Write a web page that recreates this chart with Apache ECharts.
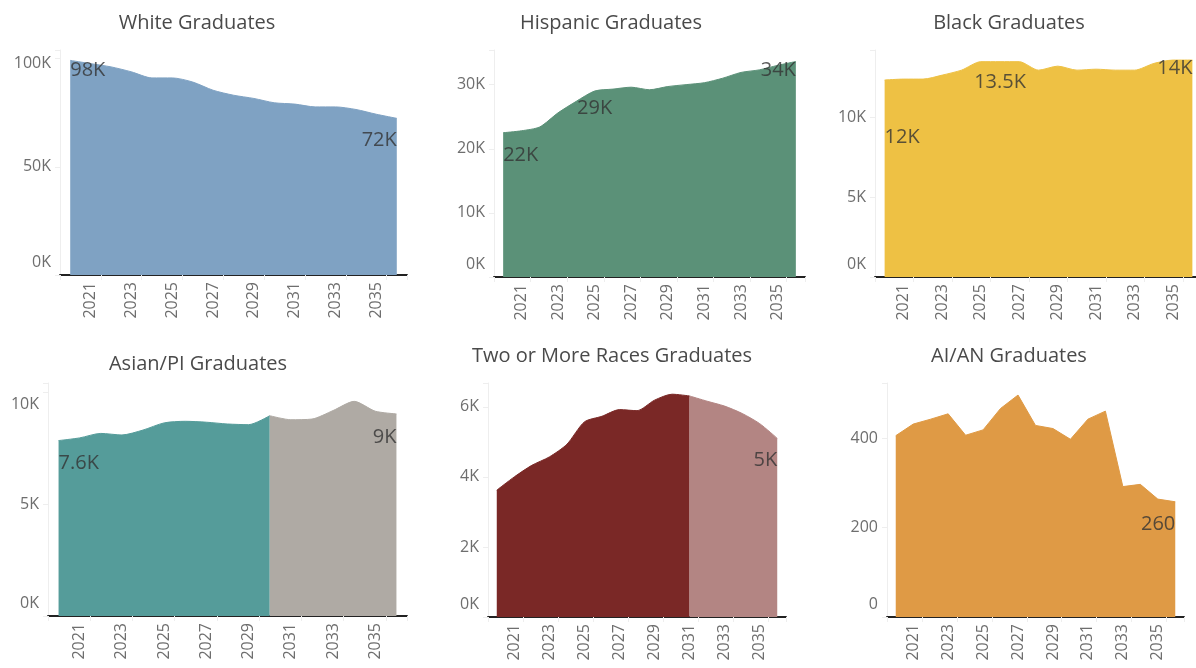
<!DOCTYPE html>
<html>
<head>
<meta charset="utf-8">
<script src="https://cdn.jsdelivr.net/npm/echarts@6/dist/echarts.min.js"></script>
<style>
  html, body { margin: 0; padding: 0; background: #fff; overflow: hidden; }
  #chart { width: 1210px; height: 668px; }
</style>
</head>
<body>
<div id="chart"></div>
<script>
const years = ['2020', '2021', '2022', '2023', '2024', '2025', '2026', '2027', '2028',
  '2029', '2030', '2031', '2032', '2033', '2034', '2035', '2036'];

const whiteGrads = [99200, 97700, 96200, 93900, 91100, 91100, 89200, 85400, 83100,
  81600, 79600, 79000, 77700, 77700, 76500, 74300, 72400];
const hispanicGrads = [22500, 22800, 23400, 25600, 27400, 29000, 29300, 29600, 29200,
  29700, 30000, 30300, 31000, 31900, 32300, 33000, 33600];
const blackGrads = [12320, 12380, 12380, 12630, 12940, 13470, 13470, 13470, 12940,
  13190, 12940, 13000, 12940, 12940, 13360, 13570, 13570];
const asianGrads = [7830, 7950, 8150, 8080, 8300, 8620, 8690, 8650, 8570,
  8540, 8940, 8760, 8790, 9170, 9580, 9140, 9020];
const multiGrads = [3620, 4000, 4330, 4570, 4930, 5570, 5730, 5920, 5890,
  6190, 6360, 6310, 6160, 6020, 5810, 5520, 5100];
const aianGrads = [406, 432, 443, 455, 407, 419, 467, 497, 429,
  422, 398, 443, 461, 292, 297, 264, 258];

// year index where the lighter (projected) part starts
const asianSplit = 10;
const multiSplit = 11;

// annotations: [year index, value, text, align]
const whiteNotes = [[0, 94400, '98K', 'left'], [16, 62400, '72K', 'right']];
const hispanicNotes = [[0, 19000, '22K', 'left'], [5, 26300, '29K', 'center'], [16, 32200, '34K', 'right']];
const blackNotes = [[0, 8760, '12K', 'left'], [5.6, 12200, '13.5K', 'center'], [16, 13080, '14K', 'right']];
const asianNotes = [[0, 6830, '7.6K', 'left'], [16, 7990, '9K', 'right']];
const multiNotes = [[16, 4480, '5K', 'right']];
const aianNotes = [[16, 208, '260', 'right']];

const panels = [
  { title: 'White Graduates', tx: 197, ty: 13, grid: { left: 60, top: 50, width: 347, height: 225 },
    max: 104000, interval: 50000, topShift: 5, k: true, smooth: 0.25 },
  { title: 'Hispanic Graduates', tx: 611, ty: 13, grid: { left: 494, top: 50, width: 311, height: 227 },
    max: 35400, interval: 10000, topShift: 0, k: true, smooth: 0.25 },
  { title: 'Black Graduates', tx: 1009, ty: 13, grid: { left: 875, top: 50, width: 327, height: 227 },
    max: 14200, interval: 5000, topShift: 0, k: true, smooth: 0.25 },
  { title: 'Asian/PI Graduates', tx: 198, ty: 354, grid: { left: 48, top: 383, width: 359, height: 233 },
    max: 10400, interval: 5000, topShift: 12, k: true, smooth: 0.25 },
  { title: 'Two or More Races Graduates', tx: 612, ty: 346, grid: { left: 488, top: 383, width: 298, height: 234 },
    max: 6680, interval: 2000, topShift: 0, k: true, smooth: 0.25 },
  { title: 'AI/AN Graduates', tx: 1009, ty: 346, grid: { left: 887, top: 383, width: 297, height: 234 },
    max: 524, interval: 200, topShift: 0, k: false, smooth: false },
];

const FONT = '"Open Sans", "Noto Sans", sans-serif';

function splitSeries(values, from, to) {
  return values.map((v, i) => (i >= from && i <= to ? v : '-'));
}

function areaSeries(idx, data, color) {
  return {
    type: 'line',
    xAxisIndex: idx,
    yAxisIndex: idx,
    data,
    smooth: panels[idx].smooth,
    showSymbol: false,
    silent: true,
    lineStyle: { color, width: 1 },
    itemStyle: { color },
    areaStyle: { color, opacity: 1 },
  };
}

function noteSeries(idx, notes) {
  return {
    type: 'scatter',
    xAxisIndex: idx,
    yAxisIndex: idx,
    symbolSize: 0,
    silent: true,
    z: 5,
    data: notes.map(([x, y, text, align]) => ({
      value: [x, y],
      label: { formatter: text, align },
    })),
    label: {
      show: true,
      position: 'inside',
      verticalAlign: 'middle',
      fontFamily: FONT,
      fontSize: 20,
      color: '#333',
    },
  };
}

const chart = echarts.init(document.getElementById('chart'), null, { renderer: 'canvas' });

const grids = panels.map((p) => p.grid);

const xAxes = panels.map((p, i) => ({
  type: 'category',
  gridIndex: i,
  data: years,
  boundaryGap: true,
  axisLine: { show: true, lineStyle: { color: '#222', width: 2 } },
  axisTick: { show: true, interval: 1, length: 5, lineStyle: { color: '#eeeeee' } },
  axisLabel: {
    rotate: 90,
    interval: (index) => index % 2 === 1,
    margin: 7,
    fontFamily: FONT,
    fontSize: 16,
    color: '#6e6e6e',
  },
  splitLine: { show: false },
}));

const yAxes = panels.map((p, i) => {
  const topTick = Math.floor(p.max / p.interval) * p.interval;
  return {
    type: 'value',
    gridIndex: i,
    min: 0,
    max: p.max,
    interval: p.interval,
    axisLine: { show: true, lineStyle: { color: '#eeeeee' } },
    axisTick: { show: true, length: 5, lineStyle: { color: '#eeeeee' } },
    splitLine: { show: false },
    axisLabel: {
      margin: 9,
      fontFamily: FONT,
      fontSize: 16,
      color: '#6e6e6e',
      formatter: (value) => {
        if (value % p.interval !== 0) return '';
        const text = p.k ? `${value / 1000}K` : `${value}`;
        if (value === 0) return `{lo|${text}}`;
        if (value === topTick && p.topShift) return `{hi${i}|${text}}`;
        return text;
      },
      rich: {
        lo: { fontFamily: FONT, fontSize: 16, color: '#6e6e6e', padding: [0, 0, 26, 0] },
        [`hi${i}`]: { fontFamily: FONT, fontSize: 16, color: '#6e6e6e', padding: [p.topShift * 2, 0, 0, 0] },
      },
    },
  };
});

const titles = panels.map((p) => ({
  text: p.title,
  left: p.tx,
  top: p.ty,
  textAlign: 'center',
  padding: 0,
  textStyle: { fontFamily: FONT, fontSize: 20, fontWeight: 'normal', color: '#4a4a4a' },
}));

const series = [
  areaSeries(0, whiteGrads, '#7fa2c3'),
  areaSeries(1, hispanicGrads, '#5b9178'),
  areaSeries(2, blackGrads, '#eec144'),
  areaSeries(3, splitSeries(asianGrads, 0, asianSplit), '#559c9a'),
  areaSeries(3, splitSeries(asianGrads, asianSplit, years.length - 1), '#afaaa4'),
  areaSeries(4, splitSeries(multiGrads, 0, multiSplit), '#7a2826'),
  areaSeries(4, splitSeries(multiGrads, multiSplit, years.length - 1), '#b38583'),
  areaSeries(5, aianGrads, '#df9a45'),
  noteSeries(0, whiteNotes),
  noteSeries(1, hispanicNotes),
  noteSeries(2, blackNotes),
  noteSeries(3, asianNotes),
  noteSeries(4, multiNotes),
  noteSeries(5, aianNotes),
];

chart.setOption({
  animation: false,
  backgroundColor: '#fff',
  title: titles,
  grid: grids,
  xAxis: xAxes,
  yAxis: yAxes,
  series,
});
</script>
</body>
</html>
